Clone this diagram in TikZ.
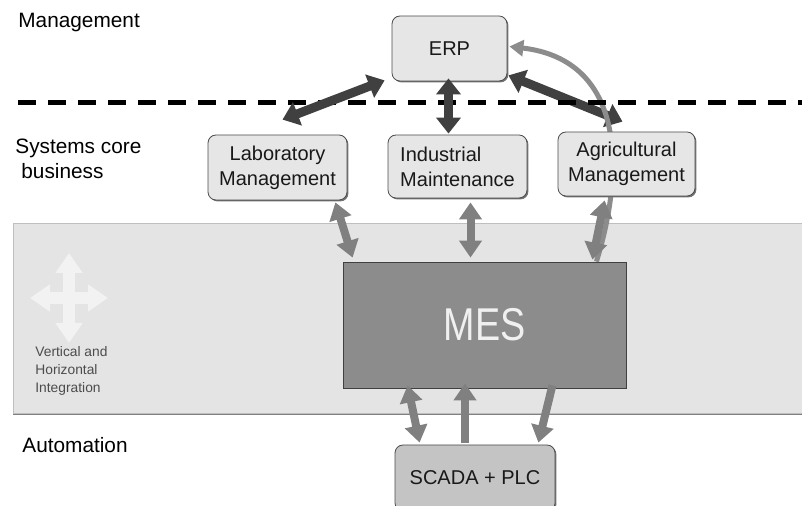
\documentclass[tikz,border=0pt]{standalone}
\usepackage{fontspec}
\setmainfont{Liberation Sans}
\usetikzlibrary{calc}
\usetikzlibrary{arrows.meta}
\usetikzlibrary{shadows}
\usetikzlibrary{backgrounds}

\definecolor{boxgray}{HTML}{E6E6E6}
\definecolor{bandgray}{HTML}{E4E4E4}
\definecolor{mesgray}{HTML}{8C8C8C}
\definecolor{scadagray}{HTML}{C4C4C4}
\definecolor{darkarrow}{HTML}{404040}
\definecolor{midarrow}{HTML}{808080}
\definecolor{crossgray}{HTML}{F2F2F2}

\tikzset{
    sysbox/.style={draw=black!70, fill=boxgray, rounded corners=4pt, align=center,
        inner sep=2pt, font=\fontsize{10}{12.5}\selectfont, text=black!90,
        general shadow={fill=black!55, shadow xshift=0.7pt, shadow yshift=-0.7pt}},
    layerlabel/.style={inner sep=0pt, align=left, font=\fontsize{10.4}{12.5}\selectfont},
    darkarr/.style={draw=darkarrow, line width=4.5pt,
        {Triangle[width=12pt,length=8pt]}-{Triangle[width=12pt,length=8pt]}},
    grayarr/.style={draw=midarrow, line width=4pt,
        {Triangle[width=11pt,length=8.5pt]}-{Triangle[width=11pt,length=8.5pt]}},
    grayone/.style={draw=midarrow, line width=4pt, -{Triangle[width=11pt,length=8.5pt]}},
    crossarr/.style={draw=crossgray, line width=6pt,
        {Triangle[width=13pt,length=10pt]}-{Triangle[width=13pt,length=10pt]}},
}

\begin{document}
\begin{tikzpicture}[x=0.5pt, y=-0.5pt]
        \useasboundingbox (0,0) rectangle (802,506);

        % Integration band
        \begin{pgfonlayer}{background}
            \draw [draw=black!25, fill=bandgray,
                general shadow={fill=black!50, shadow xshift=0pt, shadow yshift=-1pt}]
                (13,223) rectangle (830,413);
        \end{pgfonlayer}
        \coordinate (cross) at (69,298);
        \draw [crossarr] ($(cross)+(-39,0)$) -- ($(cross)+(39,0)$);
        \draw [crossarr] ($(cross)+(0,-45)$) -- ($(cross)+(0,45)$);
        \node [anchor=north west, inner sep=0pt, align=left, text=black!70,
            font=\fontsize{6.9}{9}\selectfont] (integ) at (35,346)
            {Vertical and\\Horizontal\\Integration};

        % Layers
        \node [layerlabel, anchor=base west] (mgmt) at (18,28) {Management};
        \node [layerlabel, anchor=north west] (core) at (15,139) {Systems core\\\hspace{3pt}business};
        \node [layerlabel, anchor=base west] (auto) at (22,453) {Automation};
        \draw [line width=2.5pt, dash pattern=on 9pt off 6pt] (18,103) -- (810,103);

        % Systems
        \node [sysbox, minimum width=57.5pt, minimum height=32.5pt] (erp) at (449.5,48.5) {ERP};
        \node [sysbox, minimum width=69.5pt, minimum height=32.5pt] (lab) at (277.5,167.5) {Laboratory\\Management};
        \node [sysbox, align=left, minimum width=69.5pt, minimum height=31.5pt] (ind) at (457.5,166.5) {Industrial\\Maintenance};
        \node [sysbox, minimum width=68.5pt, minimum height=32pt] (agri) at (626.5,164) {Agricultural\\Management};
        \node [draw=black!75, fill=mesgray, minimum width=141.5pt, minimum height=63pt,
            font=\fontsize{23}{27}\selectfont, text=white!94!black] (mes) at (484.5,325)
            {\scalebox{0.82}[1]{MES}\hspace{12pt}};
        \node [sysbox, fill=scadagray, minimum width=80pt, minimum height=33pt] (scada) at (475,478) {SCADA + PLC};

        % ERP links
        \draw [darkarr] ($(erp.south west)+(-7,-1)$) -- ($(lab.north)+(5,-15)$);
        \draw [darkarr] ($(erp.south)+(-1,-3)$) -- ($(ind.north)+(-9,-1)$);
        \begin{pgfonlayer}{background}
            \draw [darkarr] ($(erp.south east)+(1,-6)$) -- ($(agri.north)+(-4,-10)$);
            \draw [draw=black!45, line width=2.5pt, -{Triangle[width=8pt,length=7pt]}]
                ($(mes.north east)+(-30,0)$) .. controls (625,170) and (625,60) .. ($(erp.east)+(2,-2)$);
        \end{pgfonlayer}

        % MES links
        \draw [grayarr] ($(lab.south east)+(-12,2)$) -- ($(mes.north west)+(10,-4)$);
        \draw [grayarr] ($(ind.south)+(13,4)$) -- ($(mes.north)+(-14,-4)$);
        \draw [grayarr] ($(agri.south west)+(47,4)$) -- ($(mes.north east)+(-34,-2)$);
        \draw [grayarr] ($(mes.south west)+(65,-3)$) -- ($(scada.north west)+(25,-2)$);
        \draw [grayone] ($(scada.north)+(-10,-2)$) -- ($(mes.south)+(-19.5,-5)$);
        \draw [grayone] ($(mes.south east)+(-74,-3)$) -- ($(scada.north east)+(-17,-2)$);
    \end{tikzpicture}
\end{document}
